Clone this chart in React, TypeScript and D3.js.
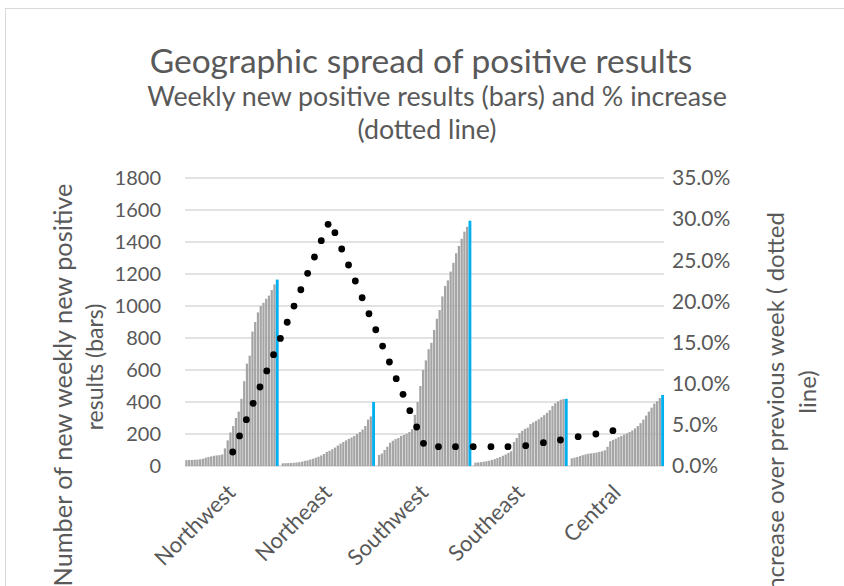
import React from 'react';
import * as d3 from 'd3';

const regions = ['Northwest', 'Northeast', 'Southwest', 'Southeast', 'Central'];

// weekly new positive results per region (last bar of each region is the current week)
const northwest = [37, 38, 38, 39, 40, 42, 45, 52, 56, 60, 64, 66, 68, 72, 110, 160, 210, 250, 300, 340, 420, 530, 640, 690, 840, 900, 960, 1000, 1020, 1045, 1065, 1100, 1135, 1165];
const northeast = [17, 18, 18, 19, 20, 22, 24, 27, 32, 35, 40, 45, 52, 58, 66, 75, 88, 95, 105, 115, 128, 140, 150, 160, 170, 178, 188, 200, 212, 228, 250, 290, 310, 400];
const southwest = [69, 78, 100, 120, 145, 158, 168, 175, 188, 194, 202, 212, 230, 320, 400, 500, 600, 660, 730, 770, 850, 920, 975, 1060, 1125, 1160, 1215, 1270, 1330, 1375, 1420, 1465, 1495, 1533];
const southeast = [21, 22, 24, 27, 30, 33, 38, 43, 50, 56, 64, 72, 82, 92, 150, 175, 205, 220, 232, 240, 262, 272, 282, 292, 305, 318, 332, 348, 375, 392, 404, 414, 418, 420];
const central = [48, 52, 56, 62, 68, 73, 77, 79, 81, 84, 88, 92, 98, 120, 155, 163, 170, 180, 188, 196, 204, 212, 222, 235, 250, 268, 290, 315, 340, 365, 390, 405, 425, 444];
const regionValues = [northwest, northeast, southwest, southeast, central];

// % increase over previous week (dotted line), positioned by week number
const pctWeeks = [7, 8, 9, 10, 11, 12, 13, 14, 15, 16, 17, 18, 19, 20, 21, 22, 23, 24, 25, 26, 27, 28, 29, 30, 31, 32, 33, 34, 35, 37.2, 39.7, 42.3, 44.9, 47.4, 50, 52.6, 55.1, 57.7, 60.3, 62.8];
const pctValues = [1.7, 3.65, 5.63, 7.62, 9.6, 11.55, 13.53, 15.5, 17.47, 19.44, 21.42, 23.42, 25.4, 27.38, 29.37, 28.35, 26.37, 24.43, 22.48, 20.45, 18.5, 16.56, 14.58, 12.64, 10.61, 8.71, 6.72, 4.74, 2.76, 2.35, 2.35, 2.35, 2.35, 2.35, 2.47, 2.83, 3.16, 3.56, 3.89, 4.29];

const leftTicks = [0, 200, 400, 600, 800, 1000, 1200, 1400, 1600, 1800];
const rightTicks = [0, 5, 10, 15, 20, 25, 30, 35];

const W = 844;
const H = 586;
const font = 'Lato, "Open Sans", sans-serif';
const textColor = '#595959';

export default function App() {
  const left = 185;
  const right = 664;
  const top = 178;
  const bottom = 466;

  // one slot per bar, plus an empty slot between regions
  const slots: { key: string; value: number | null; region: number; last: boolean }[] = [];
  regionValues.forEach((vals, r) => {
    vals.forEach((v, i) => slots.push({ key: `${r}-${i}`, value: v, region: r, last: i === vals.length - 1 }));
    if (r < regionValues.length - 1) slots.push({ key: `gap-${r}`, value: null, region: r, last: false });
  });

  const x = d3.scaleBand().domain(slots.map(s => s.key)).range([left, right]).paddingInner(0.18).paddingOuter(0.1);
  const y = d3.scaleLinear().domain([0, 1800]).range([bottom, top]);
  const y2 = d3.scaleLinear().domain([0, 35]).range([bottom, top]);
  const xw = d3.scaleLinear().domain([0, 70.3]).range([left, right]);
  const pctFmt = d3.format('.1f');

  const regionCenter = (r: number) => {
    const vals = regionValues[r];
    const a = x(`${r}-0`)!;
    const b = x(`${r}-${vals.length - 1}`)! + x.bandwidth();
    return (a + b) / 2;
  };

  return (
    <svg width={W} height={H} style={{ position: 'fixed', left: 0, top: 0, background: '#fff' }} fontFamily={font}>
      <rect x={0} y={0} width={W} height={H} fill="#fff" />
      {/* chart frame */}
      <line x1={5} x2={W} y1={8.5} y2={8.5} stroke="#d9d9d9" />
      <line x1={5.5} x2={5.5} y1={8} y2={H} stroke="#d9d9d9" />

      {/* titles */}
      <text x={421} y={73} textAnchor="middle" fontSize={33.5} fill={textColor}>Geographic spread of positive results</text>
      <text x={437} y={106} textAnchor="middle" fontSize={26.8} fill={textColor}>Weekly new positive results (bars) and % increase</text>
      <text x={427} y={139} textAnchor="middle" fontSize={26.8} fill={textColor}>(dotted line)</text>

      {/* gridlines */}
      {leftTicks.map(t => (
        <line key={t} x1={left} x2={right} y1={y(t)} y2={y(t)} stroke="#d9d9d9" strokeWidth={1.3} />
      ))}

      {/* bars */}
      {slots.filter(s => s.value !== null).map(s => (
        <rect key={s.key}
          x={s.last ? x(s.key)! - 0.3 : x(s.key)!}
          y={y(s.value!)}
          width={s.last ? x.bandwidth() + 0.6 : x.bandwidth()}
          height={bottom - y(s.value!)}
          fill={s.last ? '#00B0F0' : '#A5A5A5'} />
      ))}

      {/* dotted line */}
      {pctValues.map((v, i) => (
        <circle key={i} cx={xw(pctWeeks[i])} cy={y2(v)} r={3.4} fill="#000" />
      ))}

      {/* left axis ticks */}
      {leftTicks.map(t => (
        <text key={t} x={161} y={y(t)} dy="0.35em" textAnchor="end" fontSize={20} fill={textColor}>{t}</text>
      ))}
      {/* right axis ticks */}
      {rightTicks.map(t => (
        <text key={t} x={672} y={y2(t)} dy="0.35em" textAnchor="start" fontSize={21} fill={textColor}>{pctFmt(t)}%</text>
      ))}

      {/* category labels */}
      {regions.map((name, r) => {
        const cx = regionCenter(r) + 5;
        const cy = 494;
        return (
          <text key={name} x={cx} y={cy} transform={`rotate(-45 ${cx} ${cy})`} textAnchor="end" fontSize={22} fill={textColor}>{name}</text>
        );
      })}

      {/* axis titles */}
      <text transform="translate(63,385) rotate(-90)" dy="0.35em" textAnchor="middle" fontSize={25.3} fill={textColor}>Number of new weekly new positive</text>
      <text transform="translate(95,367) rotate(-90)" dy="0.35em" textAnchor="middle" fontSize={23} fill={textColor}>results (bars)</text>
      <text transform="translate(776,417) rotate(-90)" dy="0.35em" textAnchor="middle" fontSize={24} fill={textColor}>% increase over previous week ( dotted</text>
      <text transform="translate(808,392) rotate(-90)" dy="0.35em" textAnchor="middle" fontSize={24} fill={textColor}>line)</text>
    </svg>
  );
}
